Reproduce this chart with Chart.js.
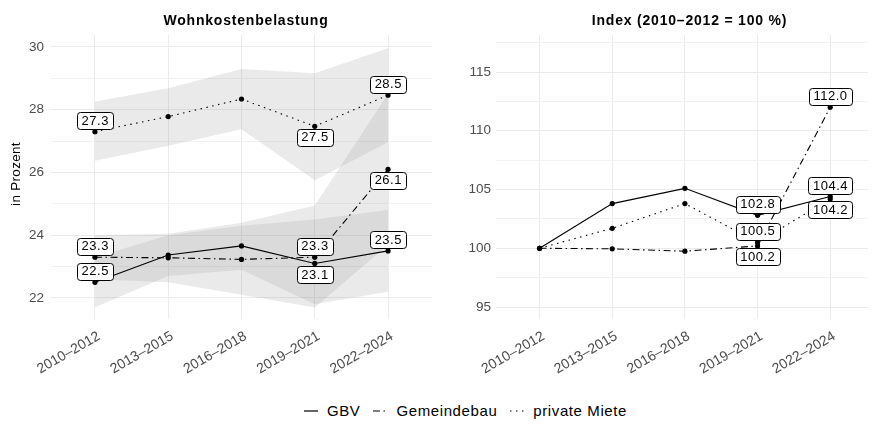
<!DOCTYPE html>
<html><head><meta charset="utf-8">
<script src="https://cdn.jsdelivr.net/npm/chart.js@4/dist/chart.umd.min.js"></script>
<style>
html,body{margin:0;padding:0;background:#fff;width:872px;height:427px;overflow:hidden;font-family:"Liberation Sans",Arial,sans-serif}
#c1{position:absolute;left:0;top:0}
#c2{position:absolute;left:436px;top:0}
#legend{position:absolute;left:0;top:402px;width:930px;display:flex;justify-content:center;align-items:center;font-size:15px;letter-spacing:0.6px;color:#000;white-space:nowrap}
#legend .it{display:flex;align-items:center;margin:0 6px}
#legend svg{margin-right:8px}
</style>
</head><body>
<canvas id="c1" width="436" height="385"></canvas>
<canvas id="c2" width="436" height="385"></canvas>
<div id="legend"></div>
<script>
// ---- data ----
const categories = ['2010–2012','2013–2015','2016–2018','2019–2021','2022–2024'];
const seriesNames = ['GBV','Gemeindebau','private Miete'];

const gbvShare  = [22.5, 23.37, 23.66, 23.1, 23.5];
const gemShare  = [23.3, 23.28, 23.23, 23.3, 26.1];
const privShare = [27.3, 27.78, 28.34, 27.47, 28.46];

const gbvLow   = [21.7, 22.7, 22.9, 21.8, 22.2];
const gbvHigh  = [23.3, 24.0, 24.3, 24.5, 24.8];
const gemLow   = [22.6, 22.5, 22.1, 21.7, 23.7];
const gemHigh  = [24.0, 24.05, 24.4, 24.95, 28.5];
const privLow  = [26.37, 26.85, 27.38, 25.75, 26.96];
const privHigh = [28.26, 28.68, 29.3, 29.16, 29.96];

const gbvIndex  = [100, 103.8, 105.1, 102.8, 104.4];
const gemIndex  = [100, 99.95, 99.75, 100.2, 112.0];
const privIndex = [100, 101.7, 103.8, 100.5, 104.2];

const leftTicks  = [22, 23, 24, 25, 26, 27, 28, 29, 30];
const rightTicks = [95, 97.5, 100, 102.5, 105, 107.5, 110, 112.5, 115, 117.5];

// labelled points: index and side (-1 above, 1 below)
const leftLabelIdx  = [0, 3, 4];
const gbvLeftSide   = [-1, 1, -1];
const gemLeftSide   = [-1, -1, 1];
const privLeftSide  = [-1, 1, -1];
const rightLabelIdx = [3, 4];
const gbvRightSide  = [-1, -1];
const gemRightSide  = [1, -1];
const privRightSide = [-1, 1];

// ---- styles ----
const FONT = '"Liberation Sans", Arial, sans-serif';
const dashes = [[], [7, 3.5, 1.5, 3.5], [1.5, 4.5]];
const ribbonColor = 'rgba(150,150,150,0.2)';

function pts(arr){ return arr.map((v,i)=>({x:i, y:v})); }

function lineDs(name, arr, k){
  return {label:name, data:pts(arr), borderColor:'#000', backgroundColor:'#000',
    borderWidth:1.1, borderDash:dashes[k], pointRadius:2.6, pointBorderWidth:0,
    pointBackgroundColor:'#000', tension:0, fill:false, order:k};
}
function ribbon(lo, hi, n){
  return [
    {label:'lo'+n, data:pts(lo), borderWidth:0, pointRadius:0, fill:false, order:10+n*2, borderColor:'rgba(0,0,0,0)'},
    {label:'hi'+n, data:pts(hi), borderWidth:0, pointRadius:0, fill:'-1', backgroundColor:ribbonColor, order:11+n*2, borderColor:'rgba(0,0,0,0)'}
  ];
}
function makeLabels(series, idx, sides){
  const out=[];
  series.forEach((arr,k)=>{ idx.forEach((i,j)=>{ out.push({i, v:arr[i], side:sides[k][j]}); }); });
  return out;
}

const annot = {
  id:'annot',
  afterDatasetsDraw(chart, args, o){
    const ctx = chart.ctx, x = chart.scales.x, y = chart.scales.y;
    ctx.save();
    ctx.font = '13px ' + FONT;
    if ('letterSpacing' in ctx) ctx.letterSpacing = '0.5px';
    ctx.textAlign='center'; ctx.textBaseline='middle';
    o.labels.forEach(l=>{
      const px = x.getPixelForValue(l.i), py = y.getPixelForValue(l.v);
      const cy = py + l.side*11;
      const t = l.v.toFixed(1);
      const w = ctx.measureText(t).width + 9, h = 17;
      const bx = px - w/2, by = cy - h/2;
      ctx.beginPath();
      ctx.roundRect(Math.round(bx)+0.5, Math.round(by)+0.5, Math.round(w), h, 3);
      ctx.fillStyle='#fff'; ctx.fill();
      ctx.lineWidth=1; ctx.strokeStyle='#000'; ctx.stroke();
      ctx.fillStyle='#000';
      ctx.fillText(t, px + 0.25, cy+0.5);
    });
    ctx.restore();
  },
  afterDraw(chart, args, o){
    const ctx = chart.ctx;
    ctx.save();
    ctx.fillStyle='#000';
    ctx.font = 'bold 14px ' + FONT;
    if ('letterSpacing' in ctx) ctx.letterSpacing = '0.8px';
    ctx.textAlign='center'; ctx.textBaseline='middle';
    ctx.fillText(o.title, o.titleX, 21);
    if (o.yTitle){
      ctx.font = '13.5px ' + FONT;
      if ('letterSpacing' in ctx) ctx.letterSpacing = '0.3px';
      ctx.translate(16, 174); ctx.rotate(-Math.PI/2);
      ctx.fillText(o.yTitle, 0, 0);
    }
    ctx.restore();
  }
};

function config(datasets, yMin, yMax, ticks, isMajor, xMax, yWidth, padRight, labels, title, titleX, yTitle, tickPad){
  return {
    type:'line',
    data:{datasets},
    plugins:[annot],
    options:{
      responsive:false, animation:false, devicePixelRatio:1,
      layout:{padding:{top:35, right:padRight, left:0, bottom:0}},
      plugins:{legend:{display:false}, tooltip:{enabled:false},
        annot:{labels, title, titleX, yTitle}},
      scales:{
        x:{type:'linear', min:-0.6, max:xMax,
          afterBuildTicks:(a)=>{ a.ticks = categories.map((c,i)=>({value:i})); },
          afterFit:(a)=>{ a.height = 385 - 319; },
          grid:{color:'#ebebeb', lineWidth:1, drawTicks:false},
          border:{display:false},
          ticks:{autoSkip:false, minRotation:30, maxRotation:30, padding:9, labelOffset:4,
            color:'#4d4d4d', font:{family:FONT, size:14},
            callback:(v)=>categories[v] ?? ''}
        },
        y:{type:'linear', min:yMin, max:yMax,
          afterBuildTicks:(a)=>{ a.ticks = ticks.map(v=>({value:v})); },
          afterFit:(a)=>{ a.width = yWidth; },
          grid:{color:(c)=> (c.tick && isMajor(c.tick.value)) ? '#ebebeb' : '#f2f2f2', lineWidth:1, drawTicks:false},
          border:{display:false},
          ticks:{padding:tickPad, color:'#4d4d4d', font:{family:FONT, size:13.5},
            callback:(v)=> isMajor(v) ? String(v) : ''}
        }
      }
    }
  };
}

const leftSets = [
  lineDs(seriesNames[0], gbvShare, 0),
  lineDs(seriesNames[1], gemShare, 1),
  lineDs(seriesNames[2], privShare, 2),
  ...ribbon(gbvLow, gbvHigh, 0),
  ...ribbon(gemLow, gemHigh, 1),
  ...ribbon(privLow, privHigh, 2)
];
const rightSets = [
  lineDs(seriesNames[0], gbvIndex, 0),
  lineDs(seriesNames[1], gemIndex, 1),
  lineDs(seriesNames[2], privIndex, 2)
];

new Chart(document.getElementById('c1'), config(leftSets, 21.33, 30.38, leftTicks,
  v=>v%2===0, 4.6, 51, 4,
  makeLabels([gbvShare, gemShare, privShare], leftLabelIdx, [gbvLeftSide, gemLeftSide, privLeftSide]),
  'Wohnkostenbelastung', 246, 'in Prozent', 7));

new Chart(document.getElementById('c2'), config(rightSets, 93.98, 118.15, rightTicks,
  v=>v%5===0, 4.52, 60, 0,
  makeLabels([gbvIndex, gemIndex, privIndex], rightLabelIdx, [gbvRightSide, gemRightSide, privRightSide]),
  'Index (2010–2012 = 100 %)', 253.5, null, 5));

// legend
const leg = document.getElementById('legend');
seriesNames.forEach((n,k)=>{
  const it = document.createElement('div'); it.className='it';
  const da = dashes[k].length ? dashes[k].join(' ') : 'none';
  it.innerHTML = '<svg width="16" height="10"><line x1="1" y1="5" x2="15" y2="5" stroke="#000" stroke-width="1.2" stroke-dasharray="'+da+'"/></svg><span>'+n+'</span>';
  leg.appendChild(it);
});
</script>
</body></html>
